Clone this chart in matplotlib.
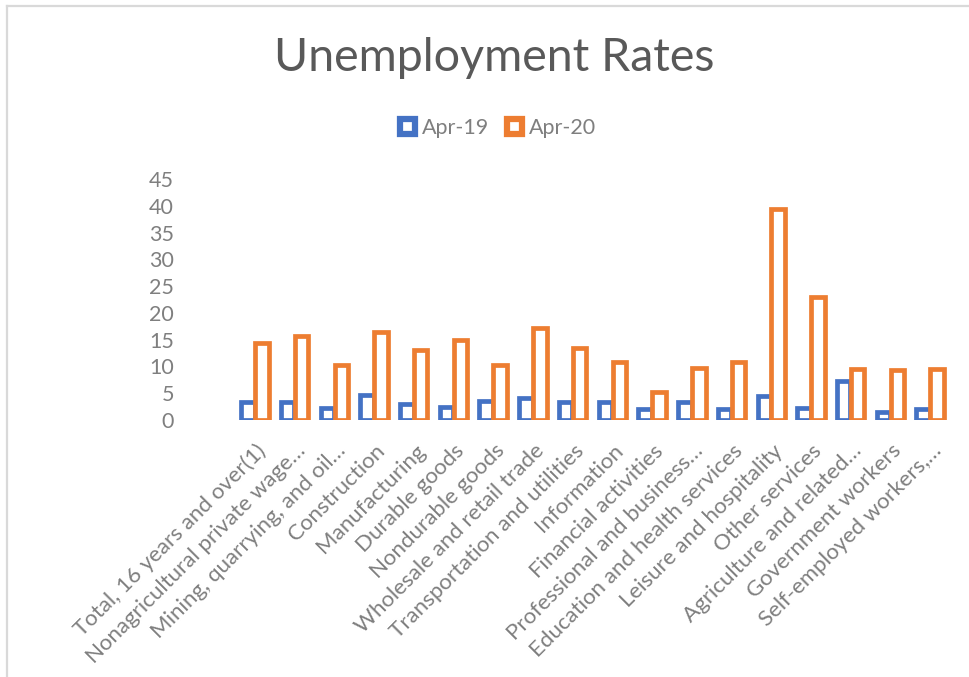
import numpy as np
import matplotlib
matplotlib.use("Agg")
import matplotlib.pyplot as plt
import matplotlib.transforms as mtransforms
from matplotlib.patches import Rectangle
from matplotlib.lines import Line2D

plt.rcParams['font.family'] = ['Lato', 'DejaVu Sans']

categories = [
    "Total, 16 years and over(1)",
    "Nonagricultural private wage\u2026",
    "Mining, quarrying, and oil\u2026",
    "Construction",
    "Manufacturing",
    "Durable goods",
    "Nondurable goods",
    "Wholesale and retail trade",
    "Transportation and utilities",
    "Information",
    "Financial activities",
    "Professional and business\u2026",
    "Education and health services",
    "Leisure and hospitality",
    "Other services",
    "Agriculture and related\u2026",
    "Government workers",
    "Self-employed workers,\u2026",
]
apr19 = [3.3, 3.3, 2.3, 4.6, 2.9, 2.5, 3.5, 4.2, 3.3, 3.4, 2.0, 3.4, 2.0, 4.4, 2.3, 7.2, 1.5, 2.1]
apr20 = [14.3, 15.6, 10.2, 16.5, 13.1, 15.0, 10.2, 17.1, 13.4, 10.9, 5.3, 9.8, 10.8, 39.4, 23.0, 9.6, 9.3, 9.6]
yticks = [0, 5, 10, 15, 20, 25, 30, 35, 40, 45]

blue = "#4472C4"
orange = "#ED7D31"
grey = "#7F7F7F"

W, H = 970, 677
fig = plt.figure(figsize=(W / 100, H / 100), dpi=100)

# chart area border (left and top only visible)
fig.add_artist(Line2D([7 / W, 7 / W], [0, 1 - 6 / H], color="#D9D9D9", lw=1.6))
fig.add_artist(Line2D([7 / W, 1], [1 - 6 / H, 1 - 6 / H], color="#D9D9D9", lw=1.6))

ax = fig.add_axes([235 / W, 1 - 420 / H, (950 - 235) / W, (420 - 179) / H])
x = np.arange(len(categories))
bw = 0.34
ax.bar(x - bw / 2 - 0.005, apr19, width=bw, facecolor="white", edgecolor=blue, linewidth=3.4, label="Apr-19")
ax.bar(x + bw / 2 + 0.005, apr20, width=bw, facecolor="white", edgecolor=orange, linewidth=3.4, label="Apr-20")

ax.set_xlim(-0.5, len(categories) - 0.5)
ax.set_ylim(0, 45)
ax.set_yticks(yticks)
ax.set_yticklabels([str(t) for t in yticks], fontsize=15.5, color=grey)
ax.tick_params(axis="y", length=0, pad=44)
ax.set_xticks(x)
ax.set_xticklabels(categories, rotation=45, ha="right", va="center", rotation_mode="anchor",
                   fontsize=16, color=grey)
ax.tick_params(axis="x", length=0, pad=20)
shift = mtransforms.ScaledTranslation(8 / 100, 0, fig.dpi_scale_trans)
for lab in ax.get_xticklabels():
    lab.set_transform(lab.get_transform() + shift)
for s in ax.spines.values():
    s.set_visible(False)

fig.text(494 / W, 1 - 58 / H, "Unemployment Rates", ha="center", va="center", fontsize=33.5, color="#595959")

handles = [
    Rectangle((0, 0), 1, 1, facecolor="white", edgecolor=blue, linewidth=4.5),
    Rectangle((0, 0), 1, 1, facecolor="white", edgecolor=orange, linewidth=4.5),
]
fig.legend(handles, ["Apr-19", "Apr-20"], loc="center", bbox_to_anchor=(498 / W, 1 - 128 / H),
           ncol=2, frameon=False, fontsize=15.5, labelcolor=grey, handlelength=0.7, handleheight=0.7,
           handletextpad=0.35, columnspacing=0.8)

fig.savefig("out.png", dpi=100)
